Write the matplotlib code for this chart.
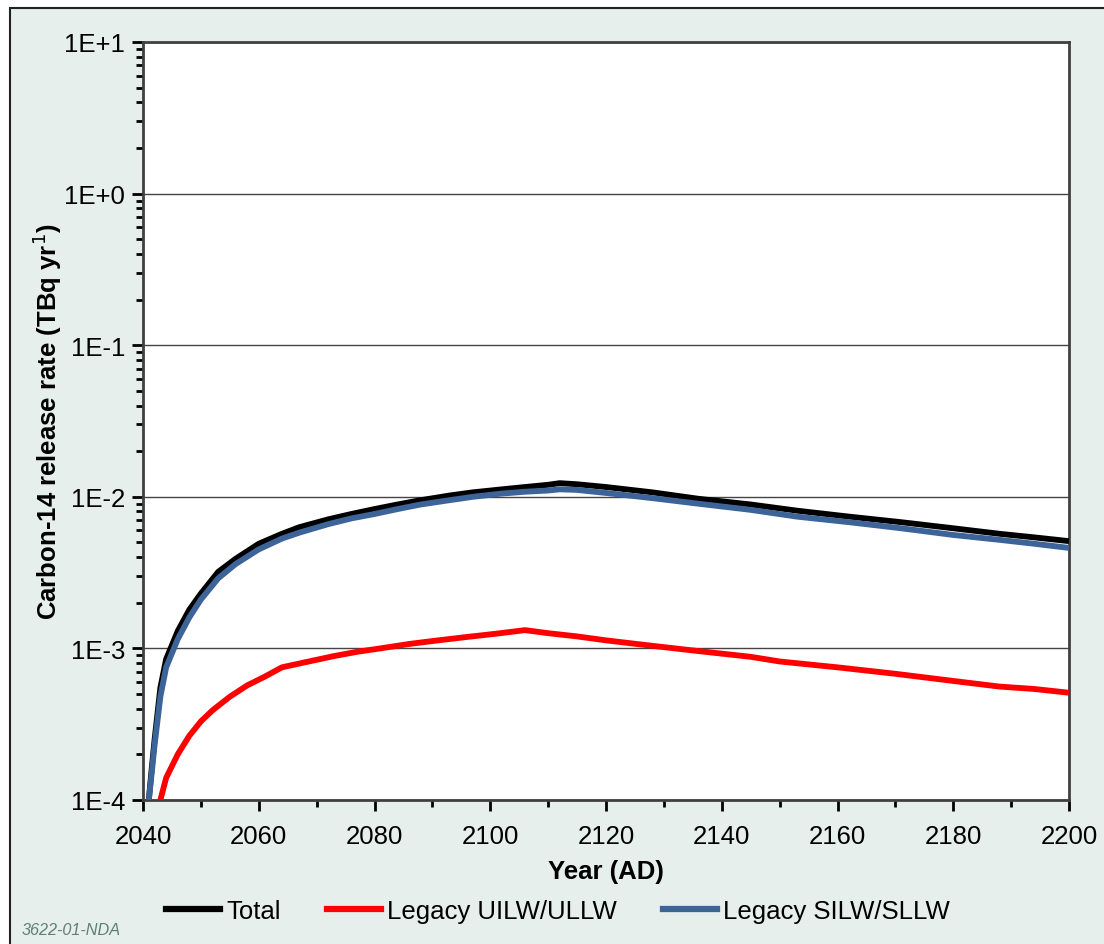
import numpy as np
import matplotlib.pyplot as plt
from matplotlib.ticker import LogLocator, FixedLocator, MultipleLocator, NullFormatter
from matplotlib.lines import Line2D

plt.rcParams['font.family'] = ['Liberation Sans', 'DejaVu Sans']

# values (TBq/yr)
years_total = [2041, 2041.5, 2042, 2043, 2044, 2046, 2048, 2050, 2053, 2056, 2060, 2064, 2067,
               2072, 2076, 2080, 2084, 2088, 2093, 2097, 2102, 2106, 2110, 2112, 2115,
               2120, 2128, 2136, 2145, 2153, 2162, 2171, 2180, 2188, 2194, 2200]
total = [1.0e-4, 1.6e-4, 2.5e-4, 5.5e-4, 8.5e-4, 1.3e-3, 1.8e-3, 2.3e-3, 3.2e-3, 3.9e-3, 4.9e-3,
         5.7e-3, 6.3e-3, 7.1e-3, 7.7e-3, 8.3e-3, 8.9e-3, 9.5e-3, 1.02e-2, 1.07e-2, 1.12e-2,
         1.16e-2, 1.2e-2, 1.23e-2, 1.21e-2, 1.16e-2, 1.07e-2, 9.7e-3, 8.9e-3, 8.1e-3, 7.4e-3,
         6.8e-3, 6.2e-3, 5.7e-3, 5.4e-3, 5.1e-3]

years_silw = [2041, 2041.5, 2042, 2043, 2044, 2046, 2048, 2050, 2053, 2056, 2060, 2064, 2067,
              2072, 2076, 2080, 2084, 2088, 2093, 2097, 2102, 2106, 2110, 2112, 2115,
              2120, 2128, 2136, 2145, 2153, 2162, 2171, 2180, 2188, 2194, 2200]
silw = [1.0e-4, 1.5e-4, 2.3e-4, 4.8e-4, 7.5e-4, 1.15e-3, 1.6e-3, 2.1e-3, 2.9e-3, 3.6e-3, 4.5e-3,
        5.3e-3, 5.8e-3, 6.6e-3, 7.2e-3, 7.7e-3, 8.3e-3, 8.9e-3, 9.5e-3, 1.0e-2, 1.05e-2,
        1.08e-2, 1.1e-2, 1.12e-2, 1.11e-2, 1.06e-2, 9.8e-3, 9.0e-3, 8.2e-3, 7.4e-3, 6.8e-3,
        6.2e-3, 5.6e-3, 5.2e-3, 4.9e-3, 4.6e-3]

years_uilw = [2043, 2044, 2046, 2048, 2050, 2052, 2055, 2058, 2061, 2064, 2068, 2073, 2077,
              2081, 2086, 2091, 2096, 2101, 2106, 2110, 2115, 2120, 2128, 2136, 2145, 2150,
              2160, 2170, 2180, 2188, 2194, 2200]
uilw = [1.0e-4, 1.4e-4, 2.0e-4, 2.65e-4, 3.3e-4, 3.9e-4, 4.8e-4, 5.7e-4, 6.5e-4, 7.5e-4,
        8.1e-4, 8.9e-4, 9.5e-4, 1.0e-3, 1.07e-3, 1.13e-3, 1.19e-3, 1.25e-3, 1.32e-3, 1.26e-3,
        1.2e-3, 1.13e-3, 1.04e-3, 9.6e-4, 8.8e-4, 8.2e-4, 7.5e-4, 6.8e-4, 6.1e-4, 5.6e-4,
        5.4e-4, 5.1e-4]

bg = '#e6efeb'
spine_col = '#404040'
fs = 18.5

fig = plt.figure(figsize=(11.04, 9.45), dpi=100, facecolor='white')
fig.patches.append(plt.Rectangle((0.009, -0.01), 1.1, 1.0, transform=fig.transFigure,
                                 facecolor=bg, edgecolor='#222222', linewidth=1.5, zorder=-10))

ax = fig.add_axes([143 / 1104, 1 - 801 / 945, (1069 - 143) / 1104, (801 - 43) / 945])
ax.set_facecolor('white')

ax.plot(years_total, total, color='black', lw=4.2, solid_capstyle='butt', zorder=3)
ax.plot(years_uilw, uilw, color='#ff0000', lw=4.2, solid_capstyle='butt', zorder=3)
ax.plot(years_silw, silw, color='#3d6498', lw=4.2, solid_capstyle='butt', zorder=4)

ax.set_yscale('log')
ax.set_ylim(1e-4, 10)
ax.set_xlim(2040, 2200)

ax.yaxis.set_major_locator(FixedLocator([1e-4, 1e-3, 1e-2, 1e-1, 1, 10]))
ax.set_yticklabels(['1E-4', '1E-3', '1E-2', '1E-1', '1E+0', '1E+1'])
ax.yaxis.set_minor_locator(LogLocator(base=10, subs=np.arange(2, 10)))
ax.yaxis.set_minor_formatter(NullFormatter())
ax.xaxis.set_major_locator(MultipleLocator(20))
ax.xaxis.set_minor_locator(MultipleLocator(10))

ax.grid(True, axis='y', which='major', color='#444444', lw=1.0)
ax.set_axisbelow(True)

for s in ax.spines.values():
    s.set_color(spine_col)
    s.set_linewidth(2.0)

ax.tick_params(axis='both', which='major', direction='out', length=8, width=2,
               color='black', labelsize=fs, pad=5)
ax.tick_params(axis='x', which='major', pad=9)
ax.tick_params(axis='both', which='minor', direction='out', length=5, width=2, color='black')

ax.set_xlabel('Year (AD)', fontsize=fs, fontweight='bold', labelpad=8)
ax.set_ylabel('Carbon-14 release rate (TBq yr$^{1}$)', fontsize=fs, fontweight='bold',
              labelpad=0)

handles = [Line2D([], [], color='black', lw=4.5),
           Line2D([], [], color='#ff0000', lw=4.5),
           Line2D([], [], color='#3d6498', lw=4.5)]
fig.legend(handles, ['Total', 'Legacy UILW/ULLW', 'Legacy SILW/SLLW'],
           loc='center', bbox_to_anchor=(558 / 1104, 1 - 912 / 945), ncol=3, frameon=False,
           fontsize=fs, handlelength=2.1, handletextpad=0.23, columnspacing=1.8)

fig.text(22 / 1104, 1 - 938 / 945, '3622-01-NDA', fontsize=11.7, style='italic',
         color='#5f7f76', va='bottom')

plt.savefig('out.png', dpi=100, facecolor=fig.get_facecolor())
